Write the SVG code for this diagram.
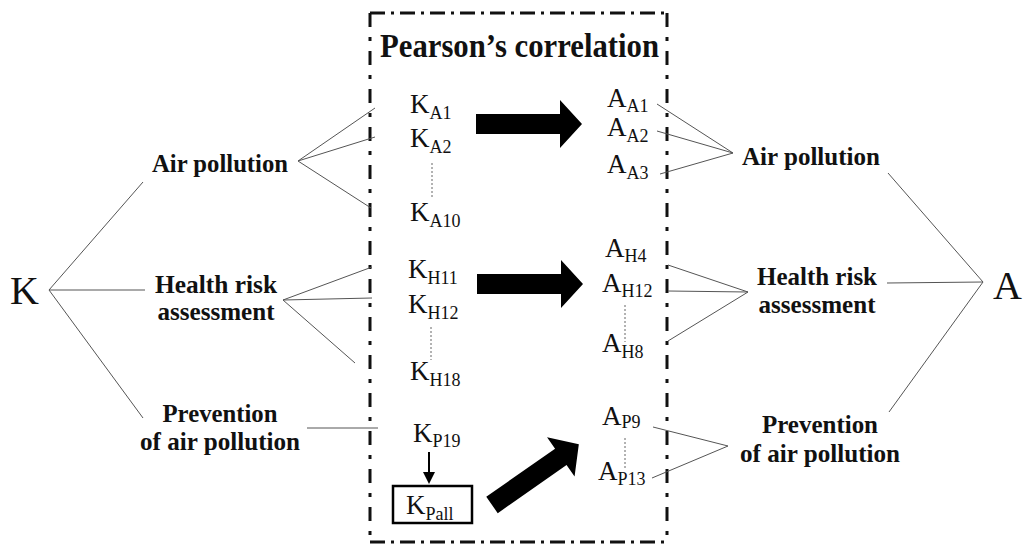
<svg xmlns="http://www.w3.org/2000/svg" width="1024" height="545" viewBox="0 0 1024 545">
  <style>
    .lbl { font-family: "Liberation Serif", "Times New Roman", serif; font-weight: bold; font-size: 26px; fill: #111; text-anchor: middle; }
    .var { font-family: "Liberation Serif", "Times New Roman", serif; font-size: 27px; fill: #111; }
    .sub { font-size: 18px; }
    .big { font-family: "Liberation Serif", "Times New Roman", serif; font-size: 40px; fill: #111; }
    .title { font-family: "Liberation Serif", "Times New Roman", serif; font-weight: bold; font-size: 33px; fill: #111; }
    .link { stroke: #555; stroke-width: 1; fill: none; }
    .dots { stroke: #666; stroke-width: 1; stroke-dasharray: 2 2; fill: none; }
    .frameH { stroke: #111; stroke-width: 3; stroke-dasharray: 15 6 3 6; fill: none; }
    .frameV { stroke: #111; stroke-width: 3; stroke-dasharray: 14 10 4 10; fill: none; }
    .fat { fill: #000; }
  </style>
  <defs>
    <polygon id="fatArrow" points="0,-10 84,-10 84,-24 106,0 84,24 84,10 0,10"/>
  </defs>

  <!-- correlation frame -->
  <g id="frame">
    <line class="frameH" x1="370" y1="13" x2="668" y2="13"/>
    <line class="frameH" x1="370" y1="542" x2="668" y2="542"/>
    <line class="frameV" x1="370" y1="13" x2="370" y2="545"/>
    <line class="frameV" x1="667" y1="13" x2="667" y2="545"/>
    <text class="title" x="380" y="57" textLength="279" lengthAdjust="spacingAndGlyphs">Pearson’s correlation</text>
  </g>

  <!-- connectors -->
  <g id="connectors">
    <!-- K tree -->
    <line class="link" x1="49" y1="290" x2="143" y2="182"/>
    <line class="link" x1="49" y1="290" x2="145" y2="290"/>
    <line class="link" x1="49" y1="290" x2="143" y2="418"/>
    <!-- knowledge: air pollution -->
    <line class="link" x1="298" y1="161" x2="375" y2="108"/>
    <line class="link" x1="298" y1="161" x2="375" y2="137"/>
    <line class="link" x1="298" y1="161" x2="371" y2="208"/>
    <!-- knowledge: health risk -->
    <line class="link" x1="283" y1="300" x2="372" y2="267"/>
    <line class="link" x1="283" y1="300" x2="372" y2="298"/>
    <line class="link" x1="283" y1="300" x2="355" y2="363"/>
    <!-- knowledge: prevention -->
    <line class="link" x1="307" y1="428" x2="378" y2="428"/>
    <!-- attitude: air pollution -->
    <line class="link" x1="657" y1="104" x2="733" y2="153"/>
    <line class="link" x1="657" y1="131" x2="733" y2="153"/>
    <line class="link" x1="660" y1="174" x2="733" y2="153"/>
    <!-- attitude: health risk -->
    <line class="link" x1="668" y1="265" x2="748" y2="292"/>
    <line class="link" x1="668" y1="291" x2="748" y2="292"/>
    <line class="link" x1="668" y1="341" x2="748" y2="292"/>
    <!-- attitude: prevention -->
    <line class="link" x1="653" y1="427" x2="728" y2="446"/>
    <line class="link" x1="652" y1="478" x2="728" y2="446"/>
    <!-- A tree -->
    <line class="link" x1="888" y1="173" x2="983" y2="282"/>
    <line class="link" x1="887" y1="283" x2="983" y2="282"/>
    <line class="link" x1="889" y1="412" x2="983" y2="282"/>
    <!-- ellipsis dots between items -->
    <line class="dots" x1="432" y1="163" x2="432" y2="198"/>
    <line class="dots" x1="431" y1="327" x2="431" y2="360"/>
    <line class="dots" x1="625" y1="305" x2="625" y2="342"/>
    <line class="dots" x1="625" y1="438" x2="625" y2="470"/>
    <!-- K_P19 to K_Pall -->
    <line x1="429" y1="452" x2="429" y2="474" stroke="#000" stroke-width="2"/>
    <polygon points="423,472 435,472 429,484" fill="#000"/>
    <!-- correlation arrows -->
    <use href="#fatArrow" class="fat" transform="translate(476,124)"/>
    <use href="#fatArrow" class="fat" transform="translate(477,284)"/>
    <use href="#fatArrow" class="fat" transform="translate(492,505) rotate(-35)"/>
  </g>

  <!-- root nodes -->
  <g id="node-K"><text class="big" x="10" y="304">K</text></g>
  <g id="node-A"><text class="big" x="993" y="299">A</text></g>

  <!-- knowledge categories -->
  <g id="k-air"><text class="lbl" x="220" y="172" textLength="136" lengthAdjust="spacingAndGlyphs">Air pollution</text></g>
  <g id="k-health">
    <text class="lbl" x="216" y="293" textLength="122" lengthAdjust="spacingAndGlyphs">Health risk</text>
    <text class="lbl" x="216" y="320" textLength="117" lengthAdjust="spacingAndGlyphs">assessment</text>
  </g>
  <g id="k-prev">
    <text class="lbl" x="220" y="422" textLength="115" lengthAdjust="spacingAndGlyphs">Prevention</text>
    <text class="lbl" x="220" y="450" textLength="160" lengthAdjust="spacingAndGlyphs">of air pollution</text>
  </g>

  <!-- attitude categories -->
  <g id="a-air"><text class="lbl" x="811" y="165" textLength="138" lengthAdjust="spacingAndGlyphs">Air pollution</text></g>
  <g id="a-health">
    <text class="lbl" x="817" y="285" textLength="120" lengthAdjust="spacingAndGlyphs">Health risk</text>
    <text class="lbl" x="817" y="313" textLength="117" lengthAdjust="spacingAndGlyphs">assessment</text>
  </g>
  <g id="a-prev">
    <text class="lbl" x="820" y="433" textLength="116" lengthAdjust="spacingAndGlyphs">Prevention</text>
    <text class="lbl" x="820" y="462" textLength="160" lengthAdjust="spacingAndGlyphs">of air pollution</text>
  </g>

  <!-- knowledge items -->
  <g id="KA1"><text class="var" x="410" y="113">K<tspan class="sub" dy="6">A1</tspan></text></g>
  <g id="KA2"><text class="var" x="410" y="147">K<tspan class="sub" dy="6">A2</tspan></text></g>
  <g id="KA10"><text class="var" x="410" y="221">K<tspan class="sub" dy="6">A10</tspan></text></g>
  <g id="KH11"><text class="var" x="408" y="278">K<tspan class="sub" dy="6">H11</tspan></text></g>
  <g id="KH12"><text class="var" x="408" y="313">K<tspan class="sub" dy="6">H12</tspan></text></g>
  <g id="KH18"><text class="var" x="410" y="380">K<tspan class="sub" dy="6">H18</tspan></text></g>
  <g id="KP19"><text class="var" x="413" y="442">K<tspan class="sub" dy="5">P19</tspan></text></g>
  <g id="KPall">
    <rect x="393" y="486" width="79" height="37" fill="#fff" stroke="#000" stroke-width="2.5"/>
    <text class="var" x="406" y="514">K<tspan class="sub" dy="6">Pall</tspan></text>
  </g>

  <!-- attitude items -->
  <g id="AA1"><text class="var" x="607" y="107">A<tspan class="sub" dy="5">A1</tspan></text></g>
  <g id="AA2"><text class="var" x="607" y="136">A<tspan class="sub" dy="6">A2</tspan></text></g>
  <g id="AA3"><text class="var" x="607" y="173">A<tspan class="sub" dy="6">A3</tspan></text></g>
  <g id="AH4"><text class="var" x="605" y="257">A<tspan class="sub" dy="5">H4</tspan></text></g>
  <g id="AH12"><text class="var" x="602" y="292">A<tspan class="sub" dy="5">H12</tspan></text></g>
  <g id="AH8"><text class="var" x="602" y="352">A<tspan class="sub" dy="6">H8</tspan></text></g>
  <g id="AP9"><text class="var" x="602" y="425">A<tspan class="sub" dy="3">P9</tspan></text></g>
  <g id="AP13"><text class="var" x="598" y="480">A<tspan class="sub" dy="5">P13</tspan></text></g>
</svg>
